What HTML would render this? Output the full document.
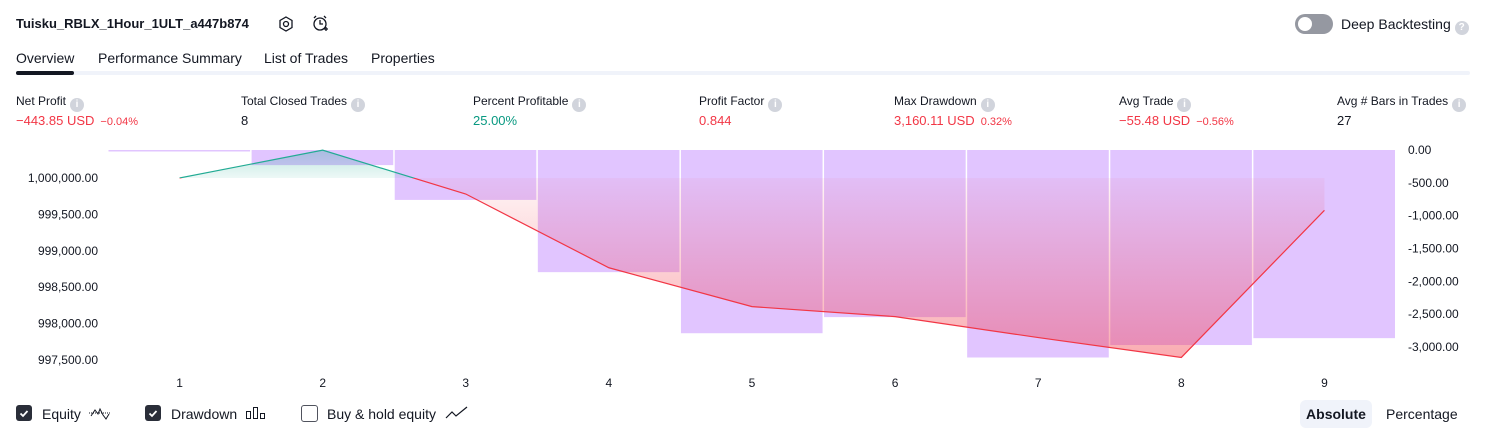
<!DOCTYPE html>
<html><head><meta charset="utf-8">
<style>
body{margin:0;width:1486px;height:438px;background:#fff;font-family:"Liberation Sans",sans-serif;color:#131722;position:relative;overflow:hidden}
.a{position:absolute;white-space:nowrap}
.info{display:inline-block;width:14px;height:14px;border-radius:50%;background:#d1d4dc;color:#fff;font-size:10px;text-align:center;line-height:14px;font-weight:bold;vertical-align:-2px;margin-left:4px}
.lbl{font-size:12px;top:94px}
.val{font-size:13px;top:113px}
.red{color:#f23645}.sm{font-size:11px;margin-left:6px}
.cb{position:absolute;width:16px;height:16px;border-radius:3px;top:405px}
</style></head><body>
<div class="a" style="left:16px;top:16px;font-size:13px;font-weight:bold">Tuisku_RBLX_1Hour_1ULT_a447b874</div>
<svg class="a" style="left:277px;top:15px" width="18" height="18"><polygon points="9,2 15,5.5 15,12.5 9,16 3,12.5 3,5.5" fill="none" stroke="#131722" stroke-width="1.3"/><circle cx="9" cy="9" r="2.5" fill="none" stroke="#131722" stroke-width="1.3"/></svg>
<svg class="a" style="left:311px;top:14px" width="18" height="20"><circle cx="9" cy="10" r="6" fill="none" stroke="#131722" stroke-width="1.3"/><path d="M9 6v4h3M3 4l2-2M15 4l-2-2M13 15h4M15 13v4" stroke="#131722" stroke-width="1.3" fill="none"/></svg>
<div class="a" style="left:1295px;top:14px;width:38px;height:20px;border-radius:10px;background:#9598a1"><div style="position:absolute;left:3px;top:3px;width:14px;height:14px;border-radius:50%;background:#fff"></div></div>
<div class="a" style="left:1341px;top:16px;font-size:14px">Deep Backtesting<span class="info" style="font-size:10px;vertical-align:-1px">?</span></div>
<div class="a" style="left:16px;top:50px;font-size:14px">Overview</div>
<div class="a" style="left:98px;top:50px;font-size:14px">Performance Summary</div>
<div class="a" style="left:264px;top:50px;font-size:14px">List of Trades</div>
<div class="a" style="left:371px;top:50px;font-size:14px">Properties</div>
<div class="a" style="left:16px;top:71px;width:1454px;height:4px;background:#f0f3fa;border-radius:2px"></div>
<div class="a" style="left:16px;top:71px;width:58px;height:4px;background:#131722;border-radius:2px"></div>

<div class="a lbl" style="left:16px">Net Profit<span class="info">i</span></div>
<div class="a val red" style="left:16px">−443.85 USD<span class="sm">−0.04%</span></div>
<div class="a lbl" style="left:241px">Total Closed Trades<span class="info">i</span></div>
<div class="a val" style="left:241px">8</div>
<div class="a lbl" style="left:473px">Percent Profitable<span class="info">i</span></div>
<div class="a val" style="left:473px;color:#089981">25.00%</div>
<div class="a lbl" style="left:699px">Profit Factor<span class="info">i</span></div>
<div class="a val red" style="left:699px">0.844</div>
<div class="a lbl" style="left:894px">Max Drawdown<span class="info">i</span></div>
<div class="a val red" style="left:894px">3,160.11 USD<span class="sm">0.32%</span></div>
<div class="a lbl" style="left:1119px">Avg Trade<span class="info">i</span></div>
<div class="a val red" style="left:1119px">−55.48 USD<span class="sm">−0.56%</span></div>
<div class="a lbl" style="left:1337px">Avg # Bars in Trades<span class="info">i</span></div>
<div class="a val" style="left:1337px">27</div>

<svg id="chart" class="a" style="left:0;top:0" width="1486" height="390"></svg>

<div class="cb" style="left:16px;background:#2a2e39"><svg width="16" height="16"><path d="M4.5 8.5l2.5 2.5 4.5-5" stroke="#fff" stroke-width="1.8" fill="none"/></svg></div>
<div class="a" style="left:42px;top:406px;font-size:14px">Equity</div>
<svg class="a" style="left:87px;top:404px" width="26" height="18"><path d="M2 9h22" stroke="#131722" stroke-dasharray="1 1"/><path d="M4 12l4-6 3 4 2-5 3 6 3 4 3-5" stroke="#131722" fill="none"/></svg>
<div class="cb" style="left:145px;background:#2a2e39"><svg width="16" height="16"><path d="M4.5 8.5l2.5 2.5 4.5-5" stroke="#fff" stroke-width="1.8" fill="none"/></svg></div>
<div class="a" style="left:171px;top:406px;font-size:14px">Drawdown</div>
<svg class="a" style="left:245px;top:405px" width="22" height="16"><rect x="1.5" y="6.5" width="4" height="7" fill="none" stroke="#131722"/><rect x="8.5" y="2.5" width="4" height="11" fill="none" stroke="#131722"/><rect x="15.5" y="8.5" width="4" height="5" fill="none" stroke="#131722"/></svg>
<div class="cb" style="left:301px;border:1.3px solid #50535e;width:15px;height:15px"></div>
<div class="a" style="left:327px;top:406px;font-size:14px">Buy &amp; hold equity</div>
<svg class="a" style="left:445px;top:405px" width="24" height="16"><path d="M1 13l6-6 4 4 11-9" stroke="#131722" fill="none" stroke-width="1.2"/></svg>
<div class="a" style="left:1300px;top:400px;width:72px;height:28px;background:#f0f3fa;border-radius:6px;font-size:14px;font-weight:bold;text-align:center;line-height:28px">Absolute</div>
<div class="a" style="left:1386px;top:406px;font-size:14px">Percentage</div>

<script>
const categories=[1,2,3,4,5,6,7,8,9];
const equity=[1000000,1000383,999780,998767,998233,998096,997808,997535,999556];
const drawdown=[0,-230,-760,-1860,-2790,-2545,-3160,-2970,-2865];
const leftTicks=[1000000,999500,999000,998500,998000,997500];
const leftTickLabels=["1,000,000.00","999,500.00","999,000.00","998,500.00","998,000.00","997,500.00"];
const rightTicks=[0,-500,-1000,-1500,-2000,-2500,-3000];
const rightTickLabels=["0.00","-500.00","-1,000.00","-1,500.00","-2,000.00","-2,500.00","-3,000.00"];
const baseEquity=1000000;

const svg=document.getElementById('chart');
const NS='http://www.w3.org/2000/svg';
const X0=108,X1=1396,step=(X1-X0)/categories.length;
const xC=i=>X0+step*(i+0.5);
const yL=v=>178+(1000000-v)*(182/2500);
const yR=v=>150-v*(197/3000);
function el(t,a,p){const e=document.createElementNS(NS,t);for(const k in a)e.setAttribute(k,a[k]);(p||svg).appendChild(e);return e;}

const defs=el('defs',{});
defs.innerHTML='<linearGradient id="gRed" x1="0" y1="'+yL(baseEquity)+'" x2="0" y2="360" gradientUnits="userSpaceOnUse"><stop offset="0" stop-color="#f23645" stop-opacity="0.05"/><stop offset="1" stop-color="#f23645" stop-opacity="0.42"/></linearGradient>'+
'<linearGradient id="gGreen" x1="0" y1="'+yL(baseEquity)+'" x2="0" y2="150" gradientUnits="userSpaceOnUse"><stop offset="0" stop-color="#22ab94" stop-opacity="0.08"/><stop offset="1" stop-color="#22ab94" stop-opacity="0.3"/></linearGradient>'+
'<clipPath id="cAbove"><rect x="0" y="0" width="1486" height="'+yL(baseEquity)+'"/></clipPath>'+
'<clipPath id="cBelow"><rect x="0" y="'+yL(baseEquity)+'" width="1486" height="400"/></clipPath>';

drawdown.forEach((v,i)=>{
  const top=yR(0),h=Math.max(1.5,yR(v)-top);
  const b=el('rect',{x:X0+step*i+0.5,y:top,width:step-1.5,height:h,fill:'rgb(196,140,255)','fill-opacity':0.5});
  
  
});

const pts=equity.map((v,i)=>xC(i)+','+yL(v)).join(' ');
const by=yL(baseEquity);
const area=xC(0)+','+by+' '+pts+' '+xC(equity.length-1)+','+by;
const fa=el('polygon',{points:area,fill:'url(#gGreen)','clip-path':'url(#cAbove)'});


const fb=el('polygon',{points:area,fill:'url(#gRed)','clip-path':'url(#cBelow)'});


const la=el('polyline',{points:pts,fill:'none',stroke:'#22ab94','stroke-width':1.2,'clip-path':'url(#cAbove)'});


const lb=el('polyline',{points:pts,fill:'none',stroke:'#f23645','stroke-width':1.2,'clip-path':'url(#cBelow)'});



leftTicks.forEach((v,i)=>{
  const t=el('text',{x:98,y:yL(v)+4,'text-anchor':'end','font-size':12,fill:'#131722','font-family':'Liberation Sans, sans-serif'});
  t.textContent=leftTickLabels[i];
  
  
});
rightTicks.forEach((v,i)=>{
  const t=el('text',{x:1408,y:yR(v)+4,'font-size':12,fill:'#131722','font-family':'Liberation Sans, sans-serif'});
  t.textContent=rightTickLabels[i];
  
  
});
categories.forEach((c,i)=>{
  const t=el('text',{x:xC(i),y:387,'text-anchor':'middle','font-size':12,fill:'#131722','font-family':'Liberation Sans, sans-serif'});
  t.textContent=c;
  
  
});
</script>
</body></html>
